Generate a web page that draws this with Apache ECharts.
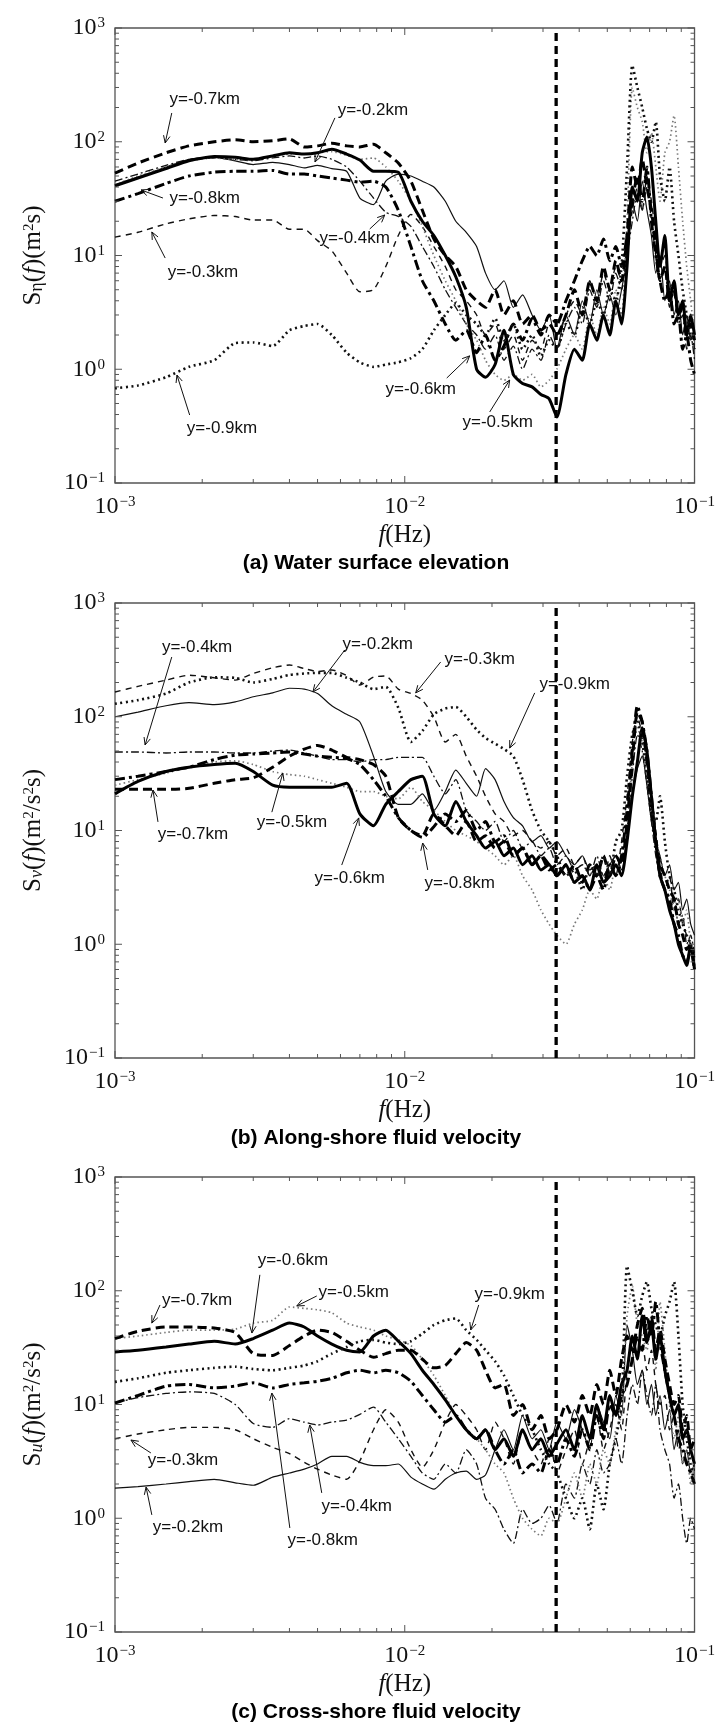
<!DOCTYPE html>
<html><head><meta charset="utf-8">
<script src="https://cdn.jsdelivr.net/npm/echarts@6/dist/echarts.min.js"></script>
<style>html,body{margin:0;padding:0;background:#fff}#c{width:718px;height:1726px}</style>
</head><body><div id="c"></div>
<script>
// ---------------- data ----------------
const freq = [0.001, 0.0012, 0.0015, 0.0018, 0.0022, 0.0026, 0.003, 0.0035, 0.004, 0.0045,
  0.005, 0.0056, 0.0063, 0.007, 0.0078, 0.0086, 0.0095, 0.0105, 0.0115, 0.0126,
  0.0138, 0.015, 0.0163, 0.0177, 0.019, 0.0205, 0.022, 0.0237, 0.0255, 0.0275,
  0.0295, 0.0315, 0.0335, 0.036, 0.0385, 0.041, 0.0435, 0.046, 0.0485, 0.051,
  0.0535, 0.056, 0.0585, 0.061, 0.0635, 0.066, 0.0685, 0.071, 0.0735, 0.076,
  0.079, 0.082, 0.085, 0.088, 0.091, 0.094, 0.097, 0.1];

const stations = ['y=-0.2km','y=-0.3km','y=-0.4km','y=-0.5km','y=-0.6km','y=-0.7km','y=-0.8km','y=-0.9km'];

// (a) water surface elevation S_eta
const eta02 = [42,49,60,70,73,68,63,66,63,59, 62,58,55,32,28,45,52,50,45,40, 30,20,16,12,7,5,6,3.5,4.5,3, 2.2,3,1.5,3,2,4,2.5,5,3,4.5, 3,5,10,30,20,45,25,15,7,10, 4,6,3,4,2,3,1.8,2.2];
const eta03 = [14.5,16,19,21,22.5,22,20.5,20.5,17,17, 13.5,11,7,4.8,5,8,15,23,18,12, 8,5,4,3,2,2.5,1.5,2,1.2,1.8, 1.5,2.5,2,3,4,3,6,4,7,5, 8,6,12,25,40,25,50,30,15,8, 10,5,6,3,4,2,2.5,1.5];
const eta04 = [45,52,62,70,72,70,68,72,75,72, 75,70,60,45,32,24,22,18,12,8, 5,3.5,2.5,2,1.5,2,1.2,1.6,1,1.5, 1.2,2,1.5,2.5,3.5,2.5,5,3.5,6,4, 7,5,10,20,35,25,40,20,10,6, 8,3.5,5,2.5,3,1.5,2,1.2];
const eta05 = [42,50,60,68,72,70,70,74,78,78, 80,82,76,70,72,60,45,30,18,10, 6,4,2.5,1.8,1.2,0.9,0.8,0.9,0.8,0.9, 0.7,0.8,1,1.5,2,1.5,3,2,3.5,2.5, 5,3,20,300,200,150,80,120,60,30, 80,100,170,60,20,8,4,2];
const eta06 = [41,48,58,68,74,73,70,75,80,78, 80,86,78,69,55,55,54,30,20,15, 10,6.5,3.5,1.0,0.85,1.1,2.2,0.9,0.75,0.7, 0.6,0.55,0.38,0.9,1.5,1.2,2.5,1.8,3,2, 4,2.5,8,40,30,80,110,60,20,8, 15,4,6,3,4,2,3,2];
const eta07 = [53,65,80,92,100,104,100,102,106,90, 92,97,92,90,95,80,65,45,25,14, 10,8,5,4,3.5,5,3,4,2.5,3, 2.2,2.5,2,3,5,3,6,4,8,5, 9,6,15,60,40,70,40,25,12,6, 8,4,5,3,3.5,2,2.5,1.8];
const eta08 = [30,35,43,50,54,55,55,56,52,52, 50,48,46,44,45,40,25,12,6,4, 2.5,1.8,2.2,1.4,2,1.2,1.6,2.5,1.8,2.8, 2,3,2.5,4,6,9,12,10,14,9, 12,8,15,30,50,30,60,20,10,6, 4,5,2.5,3,1.5,2,1.2,0.9];
const eta09 = [0.68,0.72,0.85,1.05,1.2,1.7,1.72,1.6,2.2,2.4, 2.5,2.0,1.4,1.15,1.05,1.1,1.15,1.25,1.5,2.2, 3,3.8,3,2.5,2,2.8,1.8,2.5,1.5,2, 1.3,1.8,1.5,2.5,2,3.5,2.5,4,3,5, 4,8,60,470,300,200,130,100,150,50, 30,60,20,10,5,3,2,1.5];

// (b) along-shore velocity S_v
const velV02 = [100,110,125,133,128,135,150,162,178,175, 160,125,105,90,45,22,17,17,21,15, 22,34,26,20,35,28,18,13,11,8, 9,7,8,6,5,6,4.5,5,4,5, 6,4.5,8,20,35,45,25,12,8,6, 4,5,3,3.5,2,2.5,1.5,1.2];
const velV03 = [165,185,210,232,220,210,240,270,285,265, 250,258,230,190,223,228,175,160,140,100, 60,70,45,30,20,14,12,9,10,8, 7,8,6,7,5,6,4,5,3.5,6, 4,8,20,60,100,70,40,20,10,5, 3,4,2,2.5,1.5,1.2,1,0.8];
const velV04 = [49,49,48,49,49,48,48,50,51,48, 45,42,42,40,42,42,44,44,44,30, 21,28,15,12,10,12,8,10,7,8, 6,7,5,6,4.5,5,4,6,4,5, 6,4,10,30,70,50,25,12,6,4, 3,2,2.5,1.5,1.8,1,1.2,0.8];
const velV05 = [25,28,32,36,40,41,38,33,31,30, 28,26,24,22,22,20,19,24,18,15, 12,10,9,8,7,6,5,6,4,3, 2,1.5,1.2,1,1.5,2,3,2.5,4,3, 5,4,10,40,80,60,30,15,8,6, 4,3,2,2.5,1.5,2,1,0.8];
const velV06 = [21,27,33,36,38,39,33,25,24,24, 24,24,26,14,11,17,22,28,30,14, 11,18,12,9,7,8,6,7,5,6, 4.5,5,4,5,3.5,4,3,5,3.5,4, 5,4,8,20,40,80,50,20,8,4, 3,2,1.5,1,0.8,0.65,1,0.6];
const velV07 = [23,23,23,23.5,26,28,29,36,45,52, 56,51,44,42,38,30,13,10,9,14, 11,9,12,8,9,7,8,6,7,5, 6,4.5,5,4,5,3.5,5,4,6,4, 6,5,12,40,110,90,40,15,8,5, 4,3,2.5,1.5,1.2,0.9,1,0.7];
const velV08 = [28,30,33,36,42,46,47,48,49,47, 45,44,43,38,28,20,13,10,8.7,10.8, 14,12,15,10,12,8,9,6,7,5, 6,5,4,5,3.5,4,3,4,3,5, 4,6,15,50,125,90,50,20,8,4, 3,2.5,1.5,1.2,0.8,0.7,0.9,0.6];
const velV09 = [130,140,160,200,222,220,200,215,233,240, 243,243,220,200,175,183,120,60,75,105, 118,122,100,77,65,58,52,45,28,15, 10,8,6,4,4.5,3,5,4,6,4, 8,10,30,70,90,60,30,15,12,20, 8,4,3,2,1.5,1.2,1,0.8];

// (c) cross-shore velocity S_u
const velU02 = [1.84,1.9,2.0,2.1,2.2,2.05,1.95,2.3,2.5,2.7, 3.0,3.5,3.5,3.1,2.9,2.9,3.0,2.3,2.0,1.8, 2.2,2.5,2.6,2.2,2.4,4,6,4,8,5, 6,4,7,5,9,6,4,10,7,5, 12,8,50,30,15,20,10,15,8,12, 6,9,4,6,3,4,2.5,3];
const velU03 = [5.0,5.5,6.0,6.3,6.3,6.0,5.0,4.2,3.7,3.1, 2.7,2.4,2.2,3.2,6,9,7,4,2.8,4, 7,10,8,6,4,7,5,3,6,4, 3,5,2.5,4,6,3,5,8,4,6, 10,6,20,40,25,35,20,30,15,10, 12,6,8,4,5,3,4,2.5];
const velU04 = [10.3,11.5,12.5,12.9,12.5,10,6.8,6.3,7.5,7.0, 6.6,7.0,7.3,8.2,9.5,7,5,3.5,2.5,2.2, 3,2.5,4,3,1.5,1.2,0.8,0.6,1.2,0.9, 1,1.3,0.9,2,1.5,3,2,4,2.5,3, 5,3,8,15,10,20,12,8,15,6, 4,3,1.5,2,1,0.6,1,0.8];
const velU05 = [38,40,43,45,45,46,52,55,72,70, 68,64,52,48,45,40,37,33,25,18, 12,8,6,5,4,3,2.5,1.5,1,0.8, 0.7,1,0.9,1.5,2.5,1.5,3,2,4,3, 6,8,60,110,50,40,30,60,20,80, 30,10,5,8,3,4,2,3];
const velU06 = [29,30,32,34,36,34,38,45,52,48, 40,34,30,29,40,45,36,28,20,15, 11,8,6,5,6,4,5,3.5,6,4, 5,3.5,4.5,6,4,8,5,10,6,12, 8,15,20,40,25,60,35,50,25,40, 20,12,8,10,5,6,4,3];
const velU07 = [38,44,48,48,47,43,28,27,33,40, 45,43,36,30,26,28,30,30,25,21, 22,28,35,30,20,14,15,8,10,6, 8,5,6,10,7,12,8,15,10,20, 12,25,40,30,50,70,40,60,30,45, 25,15,10,12,6,8,4,5];
const velU08 = [10.3,12,14.5,15,14,14.5,15.5,14,15,15.5, 16,17,19,20,19,20,19,16,12,9, 7,8,6,5,6,4,3,4,2.5,3, 2.5,4,3,5,3.5,6,4,8,5,10, 8,12,15,25,40,30,60,40,80,35, 20,12,8,5,4,3,2.5,2];
const velU09 = [15.8,17,19,20,21,21.5,20.5,20,21,22, 24,28,32,36,37,35,34,36,42,50, 55,57,45,37,30,24,18,12,8,6, 4,3,2.5,1.5,1,1.5,0.8,2,1.2,3, 5,10,165,100,60,90,120,70,50,40, 60,80,120,40,10,5,3,2];

const cutoffFreq = 0.0333;

// tick values
const xMajorTicks = [0.001, 0.01, 0.1];
const xMinorTicks = [0.002,0.003,0.004,0.005,0.006,0.007,0.008,0.009, 0.02,0.03,0.04,0.05,0.06,0.07,0.08,0.09];
const yMajorTicks = [0.1, 1, 10, 100, 1000];
const yMinorTicks = [0.2,0.3,0.4,0.5,0.6,0.7,0.8,0.9, 2,3,4,5,6,7,8,9, 20,30,40,50,60,70,80,90, 200,300,400,500,600,700,800,900];

// annotations: [text, label (f,S), arrow start (f,S), arrow tip (f,S)]
const annEta = [
  ['y=-0.7km', [0.00204, 238], [0.00157, 179], [0.00149, 97.5]],
  ['y=-0.8km', [0.00204, 32], [0.001464, 32], [0.00123, 37.7]],
  ['y=-0.3km', [0.00201, 7.16], [0.00149, 9.5], [0.00134, 16.1]],
  ['y=-0.2km', [0.00776, 190], [0.00574, 162], [0.0049, 66.4]],
  ['y=-0.4km', [0.00672, 14.3], [0.00757, 17.1], [0.00853, 22.7]],
  ['y=-0.9km', [0.00234, 0.305], [0.00181, 0.396], [0.001636, 0.889]],
  ['y=-0.6km', [0.01136, 0.67], [0.01396, 0.837], [0.01675, 1.31]],
  ['y=-0.5km', [0.02093, 0.344], [0.01964, 0.421], [0.02302, 0.804]]
];
const annV = [
  ['y=-0.4km', [0.00192, 410], [0.00157, 335], [0.00127, 56.5]],
  ['y=-0.2km', [0.00807, 436], [0.00621, 386], [0.00482, 165]],
  ['y=-0.3km', [0.01814, 322], [0.0133, 303], [0.01091, 162]],
  ['y=-0.9km', [0.03857, 194], [0.02808, 162], [0.02302, 53.1]],
  ['y=-0.7km', [0.001858, 9.31], [0.001407, 11.9], [0.001352, 22.7]],
  ['y=-0.5km', [0.00408, 11.9], [0.003478, 14.5], [0.0037955, 32]],
  ['y=-0.6km', [0.00646, 3.82], [0.00606, 4.97], [0.00694, 12.9]],
  ['y=-0.8km', [0.01548, 3.45], [0.012, 4.5], [0.01153, 7.76]]
];
const annU = [
  ['y=-0.6km', [0.00411, 186], [0.003162, 138], [0.002968, 42.5]],
  ['y=-0.7km', [0.00192, 83], [0.00143, 75], [0.00134, 52]],
  ['y=-0.5km', [0.00667, 97.5], [0.00497, 90], [0.00424, 73.5]],
  ['y=-0.9km', [0.02302, 93.6], [0.018, 75], [0.01689, 45.2]],
  ['y=-0.3km', [0.001716, 3.25], [0.00133, 3.75], [0.001135, 4.87]],
  ['y=-0.2km', [0.001785, 0.837], [0.00134, 1.07], [0.00128, 1.88]],
  ['y=-0.4km', [0.00683, 1.28], [0.00517, 1.67], [0.0047, 6.6]],
  ['y=-0.8km', [0.00521, 0.644], [0.004012, 0.821], [0.003478, 12.6]]
];

// ---------------- styling / layout ----------------
const SERIF = '"Liberation Serif","DejaVu Serif",serif';
const SANS = '"Liberation Sans","DejaVu Sans",sans-serif';
const lineStyles = [
  {width: 1.2, type: 'solid', color: '#111'},
  {width: 1.4, type: [6, 5], color: '#111'},
  {width: 1.3, type: [8, 3, 2, 3], color: '#111'},
  {width: 1.7, type: [1.5, 3], color: '#777'},
  {width: 3, type: 'solid', color: '#000'},
  {width: 3, type: [9, 5], color: '#000'},
  {width: 3, type: [10, 4, 3, 4], color: '#000'},
  {width: 2.6, type: [2, 3.5], color: '#111'}
];
const panels = [
  {top: 28, data: [eta02, eta03, eta04, eta05, eta06, eta07, eta08, eta09], ann: annEta,
   yName: '{r|S}{sb|η}{r|(}{i|f}{r|)(m}{sp|2}{r|s)}', caption: '(a) Water surface elevation'},
  {top: 603, data: [velV02, velV03, velV04, velV05, velV06, velV07, velV08, velV09], ann: annV,
   yName: '{r|S}{sbi|v}{r|(}{i|f}{r|)(m}{sp|2}{r|/s}{sp|2}{r|s)}', caption: '(b) Along-shore fluid velocity'},
  {top: 1177, data: [velU02, velU03, velU04, velU05, velU06, velU07, velU08, velU09], ann: annU,
   yName: '{r|S}{sbi|u}{r|(}{i|f}{r|)(m}{sp|2}{r|/s}{sp|2}{r|s)}', caption: '(c) Cross-shore fluid velocity'}
];
const GL = 115, GW = 580, GH = 455;

const labelRich = {
  b: {fontFamily: SERIF, fontSize: 24, lineHeight: 24, verticalAlign: 'bottom', color: '#111'},
  s: {fontFamily: SERIF, fontSize: 15, lineHeight: 16, verticalAlign: 'top', padding: [0, 0, 10, 1], color: '#111'}
};
function powLabel(v) {
  const e = Math.round(Math.log10(v));
  return '{b|10}{s|' + (e < 0 ? '\u2212' + (-e) : e) + '}';
}
const nameRich = {
  r: {fontFamily: SERIF, fontSize: 25, lineHeight: 25, verticalAlign: 'middle', color: '#111'},
  i: {fontFamily: SERIF, fontSize: 25, lineHeight: 25, fontStyle: 'italic', verticalAlign: 'middle', color: '#111'},
  sp: {fontFamily: SERIF, fontSize: 15, lineHeight: 15, verticalAlign: 'top', padding: [0, 0, 17, 0], color: '#111'},
  sb: {fontFamily: SERIF, fontSize: 18, lineHeight: 18, verticalAlign: 'bottom', padding: [14, 0, 0, 0], color: '#111'},
  sbi: {fontFamily: SERIF, fontSize: 18, lineHeight: 18, fontStyle: 'italic', verticalAlign: 'bottom', padding: [14, 0, 0, 0], color: '#111'}
};

const tickData = [];
xMajorTicks.forEach(v => tickData.push([v, 0.1, 0, 1]));
xMinorTicks.forEach(v => tickData.push([v, 0.1, 0, 0]));
yMajorTicks.forEach(v => tickData.push([0.001, v, 1, 1]));
yMinorTicks.forEach(v => tickData.push([0.001, v, 1, 0]));

function tickRender(params, api) {
  const flag = api.value(2), major = api.value(3);
  const len = major ? 7 : 4;
  const st = {stroke: '#555', lineWidth: 1};
  if (flag === 0) {
    const x = api.value(0);
    const b = api.coord([x, 0.1]), t = api.coord([x, 1000]);
    return {type: 'group', children: [
      {type: 'line', shape: {x1: b[0], y1: b[1], x2: b[0], y2: b[1] - len}, style: st},
      {type: 'line', shape: {x1: t[0], y1: t[1], x2: t[0], y2: t[1] + len}, style: st}]};
  }
  const y = api.value(1);
  const l = api.coord([0.001, y]), r = api.coord([0.1, y]);
  return {type: 'group', children: [
    {type: 'line', shape: {x1: l[0], y1: l[1], x2: l[0] + len, y2: l[1]}, style: st},
    {type: 'line', shape: {x1: r[0], y1: r[1], x2: r[0] - len, y2: r[1]}, style: st}]};
}

const grids = [], xAxes = [], yAxes = [], series = [], graphics = [];
panels.forEach((p, k) => {
  grids.push({left: GL, top: p.top, width: GW, height: GH, show: true, borderColor: '#555', borderWidth: 1.3, backgroundColor: 'transparent'});
  xAxes.push({type: 'log', logBase: 10, min: 0.001, max: 0.1, gridIndex: k,
    axisLine: {show: false}, axisTick: {show: false}, splitLine: {show: false},
    axisLabel: {margin: 12, formatter: powLabel, rich: labelRich},
    name: '{i|f}{r|(Hz)}', nameLocation: 'middle', nameGap: 40,
    nameTextStyle: {rich: nameRich}});
  yAxes.push({type: 'log', logBase: 10, min: 0.1, max: 1000, gridIndex: k,
    axisLine: {show: false}, axisTick: {show: false}, splitLine: {show: false},
    axisLabel: {margin: 10, formatter: powLabel, rich: labelRich},
    name: p.yName, nameLocation: 'middle', nameRotate: 90, nameGap: 55,
    nameTextStyle: {rich: nameRich}});
  p.data.forEach((vals, si) => {
    series.push({type: 'line', name: stations[si], xAxisIndex: k, yAxisIndex: k,
      data: freq.map((f, i) => [f, vals[i]]), showSymbol: false, symbol: 'none',
      smooth: 0.2, lineStyle: lineStyles[si], z: lineStyles[si].width > 2 ? 3 : 2, animation: false});
  });
  series.push({type: 'line', name: 'cutoff', xAxisIndex: k, yAxisIndex: k,
    data: [[cutoffFreq, 0.1], [cutoffFreq, 1000]], showSymbol: false, symbol: 'none',
    lineStyle: {width: 3.3, type: [8, 5], color: '#000'}, z: 6, animation: false});
  series.push({type: 'custom', xAxisIndex: k, yAxisIndex: k, data: tickData,
    dimensions: ['x', 'y', 'flag', 'major'], encode: {x: 0, y: 1},
    renderItem: tickRender, silent: true, clip: false, z: 7, animation: false});
  graphics.push({type: 'text', x: GL + GW / 2 - 29, y: p.top + 535,
    style: {text: p.caption, font: 'bold 21px ' + SANS, fill: '#000', align: 'center', verticalAlign: 'middle', textAlign: 'center', textVerticalAlign: 'middle'}});
});

const chart = echarts.init(document.getElementById('c'));
chart.setOption({animation: false, backgroundColor: '#fff', grid: grids, xAxis: xAxes, yAxis: yAxes, series: series, graphic: graphics});

// annotations, placed in data coordinates
panels.forEach((p, k) => {
  p.ann.forEach(a => {
    const lp = chart.convertToPixel({gridIndex: k}, a[1]);
    const sp = chart.convertToPixel({gridIndex: k}, a[2]);
    const tp = chart.convertToPixel({gridIndex: k}, a[3]);
    graphics.push({type: 'text', x: lp[0], y: lp[1], z: 20,
      style: {text: a[0], font: '17px ' + SANS, fill: '#111', align: 'center', verticalAlign: 'middle', textAlign: 'center', textVerticalAlign: 'middle'}});
    graphics.push({type: 'line', z: 20, shape: {x1: sp[0], y1: sp[1], x2: tp[0], y2: tp[1]}, style: {stroke: '#111', lineWidth: 1}});
    const ang = Math.atan2(sp[1] - tp[1], sp[0] - tp[0]), L = 8, w = 0.42;
    graphics.push({type: 'polyline', z: 20, shape: {points: [
      [tp[0] + L * Math.cos(ang + w), tp[1] + L * Math.sin(ang + w)], [tp[0], tp[1]],
      [tp[0] + L * Math.cos(ang - w), tp[1] + L * Math.sin(ang - w)]]},
      style: {stroke: '#111', lineWidth: 1, fill: null}});
  });
});
chart.setOption({graphic: graphics});
</script></body></html>
